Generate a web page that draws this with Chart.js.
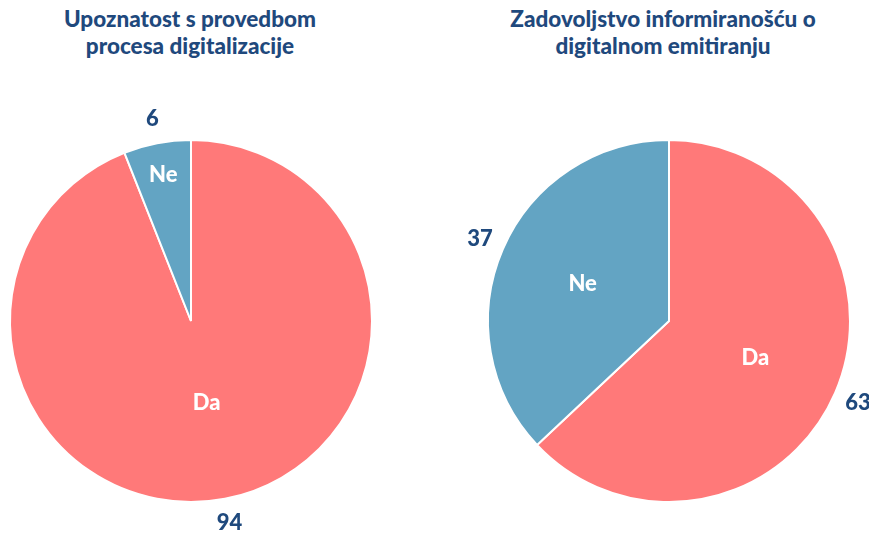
<!DOCTYPE html>
<html>
<head>
<meta charset="utf-8">
<script src="https://cdn.jsdelivr.net/npm/chart.js@4.4.1/dist/chart.umd.min.js"></script>
<style>
  html, body { margin: 0; padding: 0; background: #ffffff; }
  body { width: 869px; height: 540px; position: relative; overflow: hidden; font-family: Lato, "Noto Sans", sans-serif; }
  .title { position: absolute; top: 5px; text-align: center; color: #1f497d; font-weight: 900; font-size: 22.5px; line-height: 27px; }
  .box { position: absolute; top: 0; height: 540px; }
</style>
</head>
<body>
<div class="title" style="left: 30px; width: 320px;">Upoznatost s provedbom<br>procesa digitalizacije</div>
<div class="title" style="left: 473px; width: 380px;">Zadovoljstvo informiranošću o<br>digitalnom emitiranju</div>
<div class="box" style="left: 0; width: 434px;"><canvas id="left"></canvas></div>
<div class="box" style="left: 434px; width: 435px;"><canvas id="right"></canvas></div>

<script>
const categories = ["Da", "Ne"]
const awarenessValues = [94, 6]
const satisfactionValues = [63, 37]
const sliceColors = ["#ff7979", "#63a4c3"]

// inside category names (white) and outside values (dark blue)
const sliceLabels = {
  id: "sliceLabels",
  afterDatasetsDraw(chart) {
    const { ctx } = chart
    const meta = chart.getDatasetMeta(0)
    const values = chart.data.datasets[0].data
    const total = values.reduce((a, b) => a + b, 0)
    ctx.save()
    ctx.font = "900 22px Lato, 'Noto Sans', sans-serif"
    ctx.textAlign = "center"
    ctx.textBaseline = "middle"
    meta.data.forEach((arc, i) => {
      const mid = (arc.startAngle + arc.endAngle) / 2
      const share = values[i] / total
      const inner = arc.outerRadius * (share < 0.1 ? 0.82 : share > 0.8 ? 0.46 : 0.52)
      const outer = arc.outerRadius + 25
      ctx.fillStyle = "#ffffff"
      ctx.fillText(chart.data.labels[i], arc.x + Math.cos(mid) * inner, arc.y + Math.sin(mid) * inner)
      ctx.fillStyle = "#1f497d"
      ctx.fillText(String(values[i]), arc.x + Math.cos(mid) * outer, arc.y + Math.sin(mid) * outer)
    })
    ctx.restore()
  },
}

function drawPie(id, values, padding) {
  return new Chart(document.getElementById(id), {
    type: "pie",
    data: {
      labels: categories,
      datasets: [
        {
          data: values,
          backgroundColor: sliceColors,
          borderColor: "#ffffff",
          borderWidth: 2,
        },
      ],
    },
    options: {
      responsive: true,
      maintainAspectRatio: false,
      animation: false,
      layout: { padding: padding },
      plugins: {
        legend: { display: false },
        tooltip: { enabled: false },
      },
    },
    plugins: [sliceLabels],
  })
}

drawPie("left", awarenessValues, { left: 9, right: 61, top: 139, bottom: 37 })
drawPie("right", satisfactionValues, { left: 53, right: 18, top: 139, bottom: 37 })
</script>
</body>
</html>
